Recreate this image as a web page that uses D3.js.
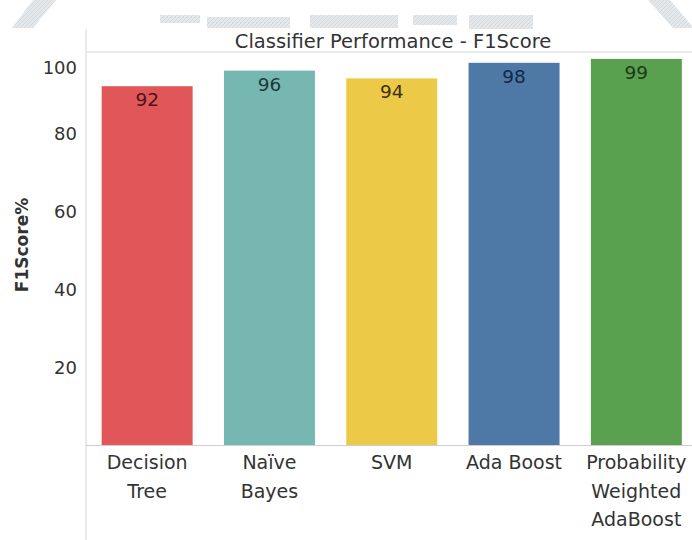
<!DOCTYPE html>
<html>
<head>
<meta charset="utf-8">
<script src="https://cdn.jsdelivr.net/npm/d3@7"></script>
<style>
  html, body { margin: 0; padding: 0; background: #fff; }
  svg { display: block; }
  text { font-family: "DejaVu Sans", "Noto Sans", sans-serif; }
</style>
</head>
<body>
<svg id="chart" width="692" height="540"></svg>
<script>
// Classifier names (one array per label line), F1 scores and bar colours
const categories = ["Decision Tree", "Naïve Bayes", "SVM", "Ada Boost", "Probability Weighted AdaBoost"];
const categoryLines = [["Decision", "Tree"], ["Naïve", "Bayes"], ["SVM"], ["Ada Boost"], ["Probability", "Weighted", "AdaBoost"]];
const f1Scores = [92, 96, 94, 98, 99];
const barColors = ["#e15759", "#76b7b2", "#edc948", "#4e79a7", "#59a14f"];
const labelColors = ["#4a1516", "#1d3a38", "#3a3010", "#132846", "#1c3a18"];
const yTicks = [20, 40, 60, 80, 100];
const chartTitle = "Classifier Performance - F1Score";
const yTitle = "F1Score%";

const svg = d3.select("#chart");
const W = 692, H = 540;
const paneLeft = 86, paneTop = 52, baseY = 445;

// faint publisher watermark across the top edge
const defs = svg.append("defs");
const pat = defs.append("pattern")
  .attr("id", "hatch").attr("width", 4).attr("height", 4)
  .attr("patternUnits", "userSpaceOnUse");
pat.append("rect").attr("width", 4).attr("height", 4).attr("fill", "#e4e8ea");
pat.append("path").attr("d", "M0,4 L4,0").attr("stroke", "#d2d8dc").attr("stroke-width", 1);
const wm = svg.append("g").attr("fill", "url(#hatch)");
wm.append("path").attr("d", "M33,0 L56,0 L33,28 L12,28 Z");
wm.append("path").attr("d", "M648,0 L670,0 L692,26 L692,28 L673,28 Z");
[[160, 15, 40, 8], [207, 17, 83, 11], [310, 15, 88, 13], [346, 15, 50, 8],
 [413, 15, 44, 10], [469, 15, 64, 14]].forEach(([x, y, w, h]) => {
  wm.append("rect").attr("x", x).attr("y", y).attr("width", w).attr("height", h);
});

// scales
const x = d3.scaleBand()
  .domain(categories)
  .range([86, 697.5])
  .paddingInner(0.256)
  .paddingOuter(0.128);

const y = d3.scaleLinear()
  .domain([0, 100])
  .range([baseY, 55]);

// pane frame lines
svg.append("line").attr("x1", paneLeft).attr("x2", paneLeft).attr("y1", 29).attr("y2", H)
  .attr("stroke", "#d6d6d6").attr("stroke-width", 1);
svg.append("line").attr("x1", paneLeft).attr("x2", W).attr("y1", paneTop).attr("y2", paneTop)
  .attr("stroke", "#e3e3e3").attr("stroke-width", 1.5);

// title
svg.append("text")
  .attr("x", 393).attr("y", 48)
  .attr("text-anchor", "middle")
  .attr("font-size", 19.5)
  .attr("fill", "#333")
  .text(chartTitle);

// y axis (labels only)
const yAxis = svg.append("g")
  .attr("transform", `translate(${paneLeft},0)`)
  .call(d3.axisLeft(y).tickValues(yTicks).tickSize(0).tickPadding(9).tickFormat(d3.format("d")));
yAxis.select(".domain").remove();
yAxis.selectAll("text")
  .attr("font-size", 18)
  .attr("fill", "#333")
  .style("font-family", "'DejaVu Sans', sans-serif")
  .attr("dy", d => d === 100 ? "1.02em" : "0.35em");

// y title
svg.append("text")
  .attr("transform", "translate(28,245) rotate(-90)")
  .attr("text-anchor", "middle")
  .attr("font-size", 17)
  .attr("font-weight", "bold")
  .attr("fill", "#333")
  .text(yTitle);

// bars
svg.append("g").selectAll("rect")
  .data(categories)
  .join("rect")
  .attr("x", d => x(d))
  .attr("y", (d, i) => y(f1Scores[i]))
  .attr("width", x.bandwidth())
  .attr("height", (d, i) => y(0) - y(f1Scores[i]))
  .attr("fill", (d, i) => barColors[i]);

// value labels inside bar tops
svg.append("g").selectAll("text")
  .data(categories)
  .join("text")
  .attr("x", d => x(d) + x.bandwidth() / 2)
  .attr("y", (d, i) => y(f1Scores[i]) + 20)
  .attr("text-anchor", "middle")
  .attr("font-size", 18.5)
  .attr("fill", (d, i) => labelColors[i])
  .text((d, i) => f1Scores[i]);

// baseline
svg.append("line").attr("x1", paneLeft).attr("x2", W).attr("y1", baseY + 0.5).attr("y2", baseY + 0.5)
  .attr("stroke", "#cfcfcf").attr("stroke-width", 1);

// category labels
const xl = svg.append("g");
categories.forEach((c, i) => {
  const cx = x(c) + x.bandwidth() / 2;
  const t = xl.append("text")
    .attr("text-anchor", "middle")
    .attr("font-size", 19)
    .attr("fill", "#333");
  categoryLines[i].forEach((line, j) => {
    t.append("tspan").attr("x", cx).attr("y", 469 + j * 28.5).text(line);
  });
});
</script>
</body>
</html>
